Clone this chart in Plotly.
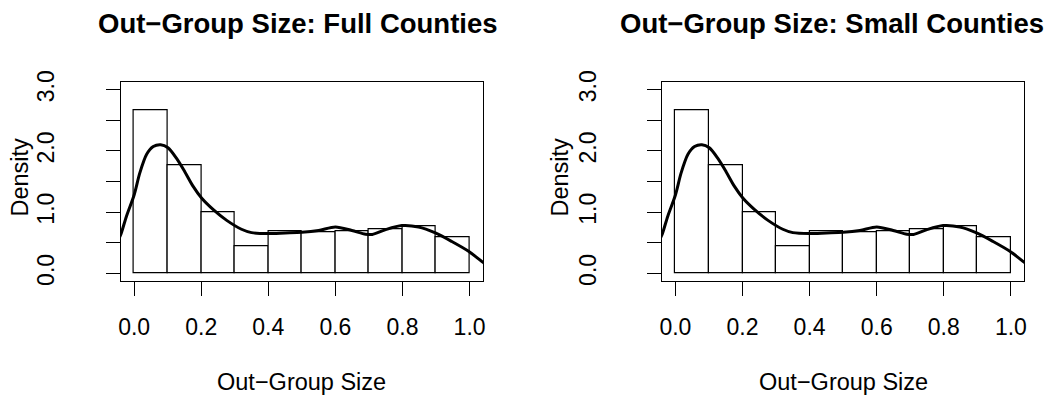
import plotly.graph_objects as go

W, H = 1061, 396

# ---------------- data ----------------
bin_left = [0.0, 0.1, 0.2, 0.3, 0.4, 0.5, 0.6, 0.7, 0.8, 0.9]
bin_width = 0.1

full_density_hist = [2.67, 1.77, 0.99, 0.45, 0.685, 0.67, 0.68, 0.724, 0.776, 0.587]
small_density_hist = [2.67, 1.77, 0.99, 0.45, 0.685, 0.67, 0.68, 0.724, 0.776, 0.587]

kde_x = [-0.05, -0.04, -0.023, 0.0, 0.017, 0.037, 0.057, 0.079, 0.101, 0.126, 0.151,
         0.176, 0.201, 0.236, 0.276, 0.32, 0.35, 0.4, 0.45, 0.5, 0.55, 0.6, 0.649,
         0.69, 0.71, 0.748, 0.798, 0.848, 0.898, 0.947, 0.997, 1.04, 1.05]
full_kde_y = [0.52, 0.63, 0.93, 1.28, 1.64, 1.94, 2.07, 2.10, 2.05, 1.88, 1.66,
              1.42, 1.23, 1.04, 0.865, 0.72, 0.665, 0.65, 0.66, 0.67, 0.70, 0.757, 0.70,
              0.64, 0.635, 0.71, 0.78, 0.757, 0.66, 0.52, 0.36, 0.18, 0.14]
small_kde_y = list(full_kde_y)

x_tickvals = [0.0, 0.2, 0.4, 0.6, 0.8, 1.0]
x_ticktext = ["0.0", "0.2", "0.4", "0.6", "0.8", "1.0"]
y_tickvals = [0.0, 0.5, 1.0, 1.5, 2.0, 2.5, 3.0]
y_ticktext = ["0.0", "", "1.0", "", "2.0", "", "3.0"]

titles = ["Out\u2212Group Size: Full Counties", "Out\u2212Group Size: Small Counties"]
x_title = "Out\u2212Group Size"
y_title = "Density"

# ---------------- layout geometry (pixels) ----------------
FONT = "Liberation Sans, Arial, Helvetica, sans-serif"
panels = [
    dict(x0=120.7, x1=483.0, title_cx=298.0, ylab_cx=19.0, hist=full_density_hist, kde=full_kde_y),
    dict(x0=662.0, x1=1024.3, title_cx=832.0, ylab_cx=559.0, hist=small_density_hist, kde=small_kde_y),
]
top_px, bot_px = 82.3, 280.7

fig = go.Figure()
annotations = []
for i, p in enumerate(panels):
    xa = "x" if i == 0 else "x2"
    ya = "y" if i == 0 else "y2"
    centers = [b + bin_width / 2 for b in bin_left]
    fig.add_trace(go.Bar(
        x=centers, y=p["hist"], width=[bin_width] * len(centers),
        marker=dict(color="white", line=dict(color="black", width=1.2)),
        xaxis=xa, yaxis=ya, showlegend=False, hoverinfo="skip"))
    fig.add_trace(go.Scatter(
        x=kde_x, y=p["kde"], mode="lines",
        line=dict(color="black", width=3, shape="spline", smoothing=0.8),
        xaxis=xa, yaxis=ya, showlegend=False, hoverinfo="skip"))

    axis_common = dict(showline=True, mirror=True, linecolor="black", linewidth=1.2,
                       ticks="outside", ticklen=14, tickwidth=1.2, tickcolor="black",
                       showgrid=False, zeroline=False, automargin=False,
                       tickfont=dict(family=FONT, size=23, color="black"))
    xdom = [p["x0"] / W, p["x1"] / W]
    ydom = [(H - bot_px) / H, (H - top_px) / H]
    xkey = "xaxis" if i == 0 else "xaxis2"
    ykey = "yaxis" if i == 0 else "yaxis2"
    fig.update_layout(**{
        xkey: dict(domain=xdom, range=[-0.04, 1.04], tickmode="array",
                   tickvals=x_tickvals, ticktext=x_ticktext, anchor=ya,
                   ticklabelstandoff=12, **axis_common),
        ykey: dict(domain=ydom, range=[-0.12, 3.12], tickmode="array",
                   tickvals=y_tickvals, ticktext=y_ticktext, anchor=xa,
                   tickangle=-90, ticklabelstandoff=42, **axis_common),
    })

    annotations.append(dict(text="<b>" + titles[i] + "</b>", x=p["title_cx"] / W, y=1 - 24 / H,
                            xref="paper", yref="paper", xanchor="center", yanchor="middle",
                            showarrow=False, font=dict(family=FONT, size=27.5, color="black")))
    annotations.append(dict(text=x_title, x=(p["x0"] + p["x1"]) / 2 / W, y=1 - 382 / H,
                            xref="paper", yref="paper", xanchor="center", yanchor="middle",
                            showarrow=False, font=dict(family=FONT, size=23.5, color="black")))
    annotations.append(dict(text=y_title, x=p["ylab_cx"] / W, y=1 - 177.5 / H, textangle=-90,
                            xref="paper", yref="paper", xanchor="center", yanchor="middle",
                            showarrow=False, font=dict(family=FONT, size=23.5, color="black")))

fig.update_layout(width=W, height=H, margin=dict(l=0, r=0, t=0, b=0, autoexpand=False),
                  paper_bgcolor="white", plot_bgcolor="white",
                  barmode="overlay", bargap=0, annotations=annotations,
                  font=dict(family=FONT, color="black"))

fig.write_html("out.html")
